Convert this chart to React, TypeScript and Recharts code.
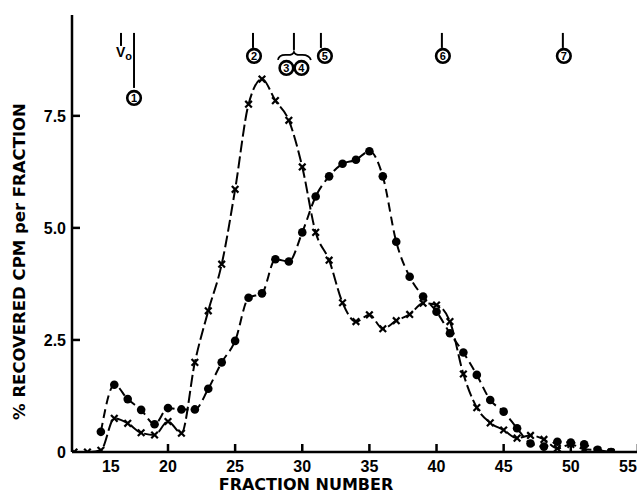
import React from 'react';
import { LineChart, Line, XAxis, YAxis, ReferenceDot } from 'recharts';

// Fraction numbers
const fractions = [
  13, 14, 15, 16, 17, 18, 19, 20, 21, 22, 23, 24, 25, 26, 27, 28, 29, 30, 31, 32, 33,
  34, 35, 36, 37, 38, 39, 40, 41, 42, 43, 44, 45, 46, 47, 48, 49, 50, 51, 52, 53,
];
// Series drawn with filled circles (%)
const dotSeries: (number | null)[] = [
  null, null, 0.45, 1.5, 1.18, 0.94, 0.62, 0.98, 0.95, 0.95, 1.41, 2.0, 2.48, 3.44, 3.54,
  4.3, 4.25, 4.9, 5.7, 6.15, 6.43, 6.52, 6.71, 6.15, 4.69, 3.91, 3.47, 3.13, 2.65, 2.22,
  1.72, 1.16, 0.9, 0.53, 0.19, 0.12, 0.23, 0.21, 0.17, 0.05, 0.0,
];
// Series drawn with crosses (%)
const crossSeries: number[] = [
  0, 0, 0.04, 0.75, 0.64, 0.43, 0.38, 0.68, 0.42, 2.0, 3.15, 4.19, 5.86, 7.76, 8.32, 7.84,
  7.4, 6.36, 4.9, 4.28, 3.33, 2.91, 3.06, 2.75, 2.93, 3.07, 3.32, 3.28, 2.91, 1.74, 0.99,
  0.65, 0.49, 0.31, 0.37, 0.28, 0.08, 0.17, 0.06, 0.04, 0.0,
];

const xTicks = [15, 20, 25, 30, 35, 40, 45, 50, 55];
const yTicks = [0, 2.5, 5, 7.5];
const yTickLabels = ['0', '2.5', '5.0', '7.5'];

// Calibration markers along the top (elution position in fraction number)
const markerNames = ['Vo', '1', '2', '3-4', '5', '6', '7'];
const markerKinds = ['vo', 'long', 'short', 'pair', 'short', 'short', 'short'];
const markerFractions = [16.5, 17.47, 26.33, 29.38, 31.39, 40.4, 49.41];
const markerTop = 9.35;

const data = fractions.map((f, i) => ({
  fraction: f,
  bound: dotSeries[i],
  free: crossSeries[i],
}));

const FONT = '"Liberation Sans", Arial, sans-serif';
const TITLE_FONT = '"DejaVu Sans", sans-serif';

const Circled = ({ x, y, label }: { x: number; y: number; label: string }) => (
  <g>
    <circle cx={x} cy={y} r={6.8} fill="#fff" stroke="#000" strokeWidth={2.6} />
    <text
      x={x}
      y={y + 3.9}
      textAnchor="middle"
      fontFamily={FONT}
      fontWeight="bold"
      fontSize={11}
      fill="#000"
    >
      {label}
    </text>
  </g>
);

const makeMarker = (name: string, kind: string) => (props: any) => {
  const { cx, cy } = props;
  if (cx == null || cy == null) return <g />;
  if (kind === 'vo') {
    return (
      <g>
        <line x1={cx} x2={cx} y1={cy} y2={cy + 13} stroke="#000" strokeWidth={2} />
        <text x={cx - 5} y={cy + 24} fontFamily={FONT} fontWeight="bold" fontSize={14} fill="#000">
          V<tspan fontSize={11} dy={3}>o</tspan>
        </text>
      </g>
    );
  }
  if (kind === 'long') {
    return (
      <g>
        <line x1={cx} x2={cx} y1={cy} y2={cy + 55} stroke="#000" strokeWidth={2} />
        <Circled x={cx} y={cy + 65} label={name} />
      </g>
    );
  }
  if (kind === 'pair') {
    const [a, b] = name.split('-');
    return (
      <g>
        <line x1={cx} x2={cx} y1={cy} y2={cy + 17} stroke="#000" strokeWidth={2} />
        <path
          d={`M ${cx - 16} ${cy + 27} Q ${cx - 15} ${cy + 21} ${cx - 6} ${cy + 22} Q ${cx - 1} ${cy + 22} ${cx} ${cy + 19} Q ${cx + 1} ${cy + 22} ${cx + 6} ${cy + 22} Q ${cx + 15} ${cy + 21} ${cx + 17} ${cy + 27}`}
          fill="none"
          stroke="#000"
          strokeWidth={1.8}
        />
        <Circled x={cx - 7.5} y={cy + 35} label={a} />
        <Circled x={cx + 7.5} y={cy + 35} label={b} />
      </g>
    );
  }
  const shift = name === '5' ? 4 : 1;
  return (
    <g>
      <line x1={cx} x2={cx} y1={cy} y2={cy + 15} stroke="#000" strokeWidth={2} />
      <Circled x={cx + shift} y={cy + 23} label={name} />
    </g>
  );
};

const CrossDot = (props: any) => {
  const { cx, cy, index } = props;
  if (cx == null || cy == null) return <g key={`x-${index}`} />;
  const s = 3.3;
  return (
    <g key={`x-${index}`}>
      <line x1={cx - s} y1={cy - s} x2={cx + s} y2={cy + s} stroke="#000" strokeWidth={2.2} />
      <line x1={cx - s} y1={cy + s} x2={cx + s} y2={cy - s} stroke="#000" strokeWidth={2.2} />
    </g>
  );
};

const YTick = (props: any) => {
  const { x, y, payload } = props;
  const i = yTicks.indexOf(payload.value);
  return (
    <g>
      {payload.value !== 0 && (
        <line x1={x} x2={x + 8} y1={y} y2={y} stroke="#000" strokeWidth={2.5} />
      )}
      <text
        x={x - 6}
        y={y + 6}
        textAnchor="end"
        fontFamily={FONT}
        fontWeight="bold"
        fontSize={16}
        fill="#000"
      >
        {i >= 0 ? yTickLabels[i] : payload.value}
      </text>
    </g>
  );
};

const XTick = (props: any) => {
  const { x, y, payload } = props;
  const first = payload.value === xTicks[0];
  const last = payload.value === xTicks[xTicks.length - 1];
  const dx = first ? 10 : last ? -10 : 0;
  return (
    <g>
      {!first && <line x1={x} x2={x} y1={y} y2={y - 8} stroke="#000" strokeWidth={2.5} />}
      <text
        x={x + dx}
        y={y + 20}
        textAnchor="middle"
        fontFamily={FONT}
        fontWeight="bold"
        fontSize={16}
        fill="#000"
      >
        {payload.value}
      </text>
    </g>
  );
};

const XTitle = (props: any) => {
  const { viewBox } = props;
  return (
    <text
      x={viewBox.x + 234}
      y={viewBox.y + 38}
      textAnchor="middle"
      fontFamily={TITLE_FONT}
      fontWeight="bold"
      fontSize={16}
      fill="#000"
    >
      FRACTION NUMBER
    </text>
  );
};

const YTitle = (props: any) => {
  const { viewBox } = props;
  const cx = viewBox.x + 19;
  const cy = viewBox.y + viewBox.height / 2 + 28;
  return (
    <text
      x={cx}
      y={cy}
      transform={`rotate(-90 ${cx} ${cy})`}
      textAnchor="middle"
      dominantBaseline="central"
      fontFamily={TITLE_FONT}
      fontWeight="bold"
      fontSize={16.5}
      fill="#000"
    >
      % RECOVERED CPM per FRACTION
    </text>
  );
};

export default function App() {
  return (
    <div
      style={{
        position: 'absolute',
        left: 0,
        top: 0,
        width: 637,
        height: 495,
        overflow: 'hidden',
        background: '#fff',
      }}
    >
      <LineChart
        width={650}
        height={495}
        data={data}
        margin={{ top: 15, right: 0, bottom: 0, left: 0 }}
      >
        <XAxis
          xAxisId="top"
          orientation="top"
          dataKey="fraction"
          type="number"
          domain={[12.85, 55.9]}
          allowDataOverflow
          tick={false}
          tickLine={false}
          height={0}
          axisLine={{ stroke: '#000', strokeWidth: 2.5 }}
        />
        <XAxis
          dataKey="fraction"
          type="number"
          domain={[12.85, 55.9]}
          allowDataOverflow
          ticks={xTicks}
          interval={0}
          tick={<XTick />}
          tickLine={false}
          tickSize={0}
          tickMargin={0}
          height={43}
          axisLine={{ stroke: '#000', strokeWidth: 2.5 }}
          label={<XTitle />}
        />
        <YAxis
          type="number"
          domain={[0, 9.75]}
          allowDataOverflow
          ticks={yTicks}
          interval={0}
          tick={<YTick />}
          tickLine={false}
          tickSize={0}
          tickMargin={0}
          width={72}
          axisLine={{ stroke: '#000', strokeWidth: 2.5 }}
          label={<YTitle />}
        />
        <Line
          type="monotone"
          dataKey="free"
          stroke="#000"
          strokeWidth={2}
          strokeDasharray="12 4"
          dot={<CrossDot />}
          isAnimationActive={false}
        />
        <Line
          type="monotone"
          dataKey="bound"
          stroke="#000"
          strokeWidth={2}
          strokeDasharray="9 5"
          dot={{ r: 4.3, fill: '#000', stroke: '#000', strokeWidth: 0 }}
          isAnimationActive={false}
        />
        {markerFractions.map((f, i) => (
          <ReferenceDot
            key={markerNames[i]}
            x={f}
            y={markerTop}
            r={0}
            shape={makeMarker(markerNames[i], markerKinds[i])}
          />
        ))}
      </LineChart>
    </div>
  );
}
